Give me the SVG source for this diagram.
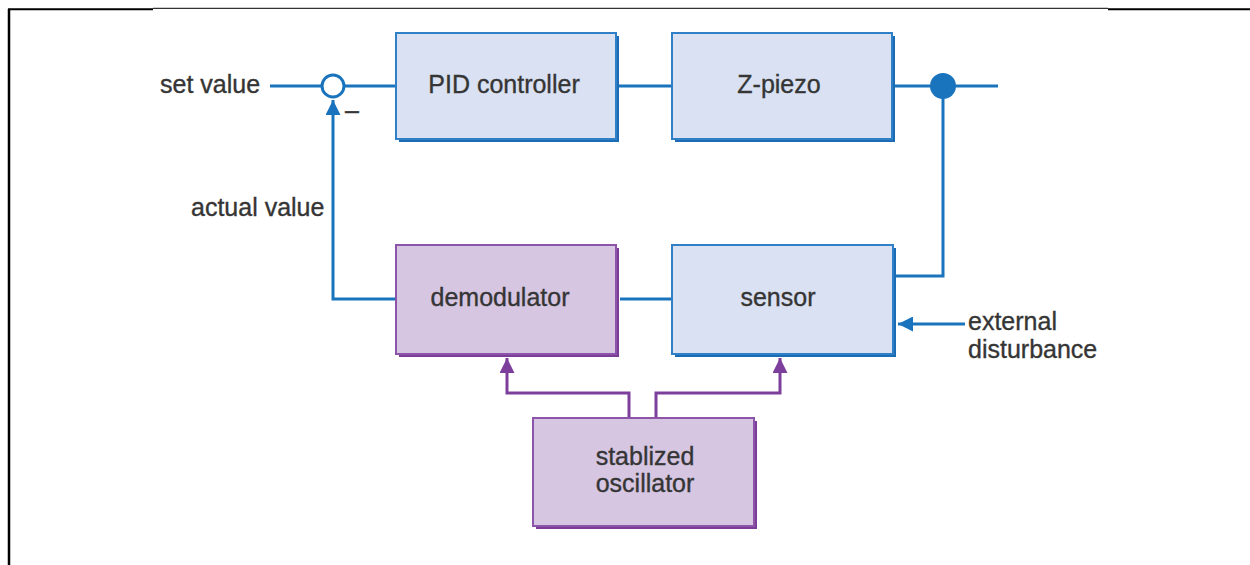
<svg xmlns="http://www.w3.org/2000/svg" width="1250" height="565" viewBox="0 0 1250 565">
  <style>
    .lbl { font-family: "Liberation Sans", Arial, sans-serif; font-size: 25px; fill: #353535; stroke: #353535; stroke-width: 0.35px; }
    .mid { text-anchor: middle; }
    .bshadow { fill: #1c6cb5; }
    .bbox { fill: #d9e1f2; stroke: #2f80c6; stroke-width: 2; }
    .pshadow { fill: #7b3d98; }
    .pbox { fill: #d6c6e2; stroke: #8c55aa; stroke-width: 2; }
    .wire { fill: none; stroke: #1a74bd; stroke-width: 3; }
    .pwire { fill: none; stroke: #7c3f9b; stroke-width: 3; }
    .frame { stroke: #000; fill: none; }
  </style>
  <defs>
    <marker id="arrB" viewBox="0 0 10 10" refX="10" refY="5" markerWidth="7" markerHeight="5" markerUnits="strokeWidth" orient="auto">
      <path d="M0,0 L10,5 L0,10 z" fill="#1a74bd"/>
    </marker>
    <marker id="arrP" viewBox="0 0 10 10" refX="10" refY="5" markerWidth="7" markerHeight="5" markerUnits="strokeWidth" orient="auto">
      <path d="M0,0 L10,5 L0,10 z" fill="#7c3f9b"/>
    </marker>
  </defs>

  <rect width="1250" height="565" fill="#fff"/>

  <!-- page frame -->
  <g id="frame">
    <line class="frame" x1="9" y1="9" x2="9" y2="565" stroke-width="2.5"/>
    <line class="frame" x1="8" y1="9.3" x2="153" y2="9.3" stroke-width="2"/>
    <line class="frame" x1="153" y1="8.3" x2="1108" y2="8.3" stroke-width="1"/>
    <line class="frame" x1="1108" y1="9.3" x2="1250" y2="9.3" stroke-width="2"/>
  </g>

  <!-- connectors -->
  <g id="connectors">
    <line class="wire" x1="270" y1="86" x2="322" y2="86"/>
    <line class="wire" x1="344" y1="86" x2="396" y2="86"/>
    <line class="wire" x1="618" y1="86" x2="672" y2="86"/>
    <line class="wire" x1="894" y1="86" x2="998" y2="86"/>
    <polyline class="wire" points="895,276 943,276 943,86"/>
    <line class="wire" x1="620" y1="299" x2="672" y2="299"/>
    <polyline class="wire" points="396,299 333,299 333,100" marker-end="url(#arrB)"/>
    <line class="wire" x1="965" y1="324" x2="898" y2="324" marker-end="url(#arrB)"/>
    <polyline class="pwire" points="629,418 629,393 507,393 507,358" marker-end="url(#arrP)"/>
    <polyline class="pwire" points="656,418 656,393 780,393 780,358" marker-end="url(#arrP)"/>
    <!-- summing junction and branch point -->
    <circle cx="333" cy="86" r="11" fill="#fff" stroke="#1a74bd" stroke-width="3"/>
    <circle cx="943" cy="86" r="13" fill="#1a74bd"/>
  </g>

  <g id="pid">
    <rect class="bshadow" x="399" y="36" width="220" height="106"/>
    <rect class="bbox" x="396" y="33" width="220" height="106"/>
    <text class="lbl mid" x="504" y="93">PID controller</text>
  </g>

  <g id="zpiezo">
    <rect class="bshadow" x="675" y="36" width="220" height="106"/>
    <rect class="bbox" x="672" y="33" width="220" height="106"/>
    <text class="lbl mid" x="779" y="93">Z-piezo</text>
  </g>

  <g id="demodulator">
    <rect class="pshadow" x="399" y="248" width="220" height="109"/>
    <rect class="pbox" x="396" y="245" width="220" height="109"/>
    <text class="lbl mid" x="500" y="306">demodulator</text>
  </g>

  <g id="sensor">
    <rect class="bshadow" x="675" y="248" width="221" height="109"/>
    <rect class="bbox" x="672" y="245" width="221" height="109"/>
    <text class="lbl mid" x="778" y="306">sensor</text>
  </g>

  <g id="oscillator">
    <rect class="pshadow" x="536" y="421" width="221" height="108"/>
    <rect class="pbox" x="533" y="418" width="221" height="108"/>
    <text class="lbl mid" x="645" y="465">stablized</text>
    <text class="lbl mid" x="645" y="492">oscillator</text>
  </g>

  <g id="labels">
    <text class="lbl" x="160" y="93">set value</text>
    <text class="lbl" x="345" y="119">–</text>
    <text class="lbl" x="191" y="216">actual value</text>
    <text class="lbl" x="968" y="330">external</text>
    <text class="lbl" x="968" y="358">disturbance</text>
  </g>
</svg>
